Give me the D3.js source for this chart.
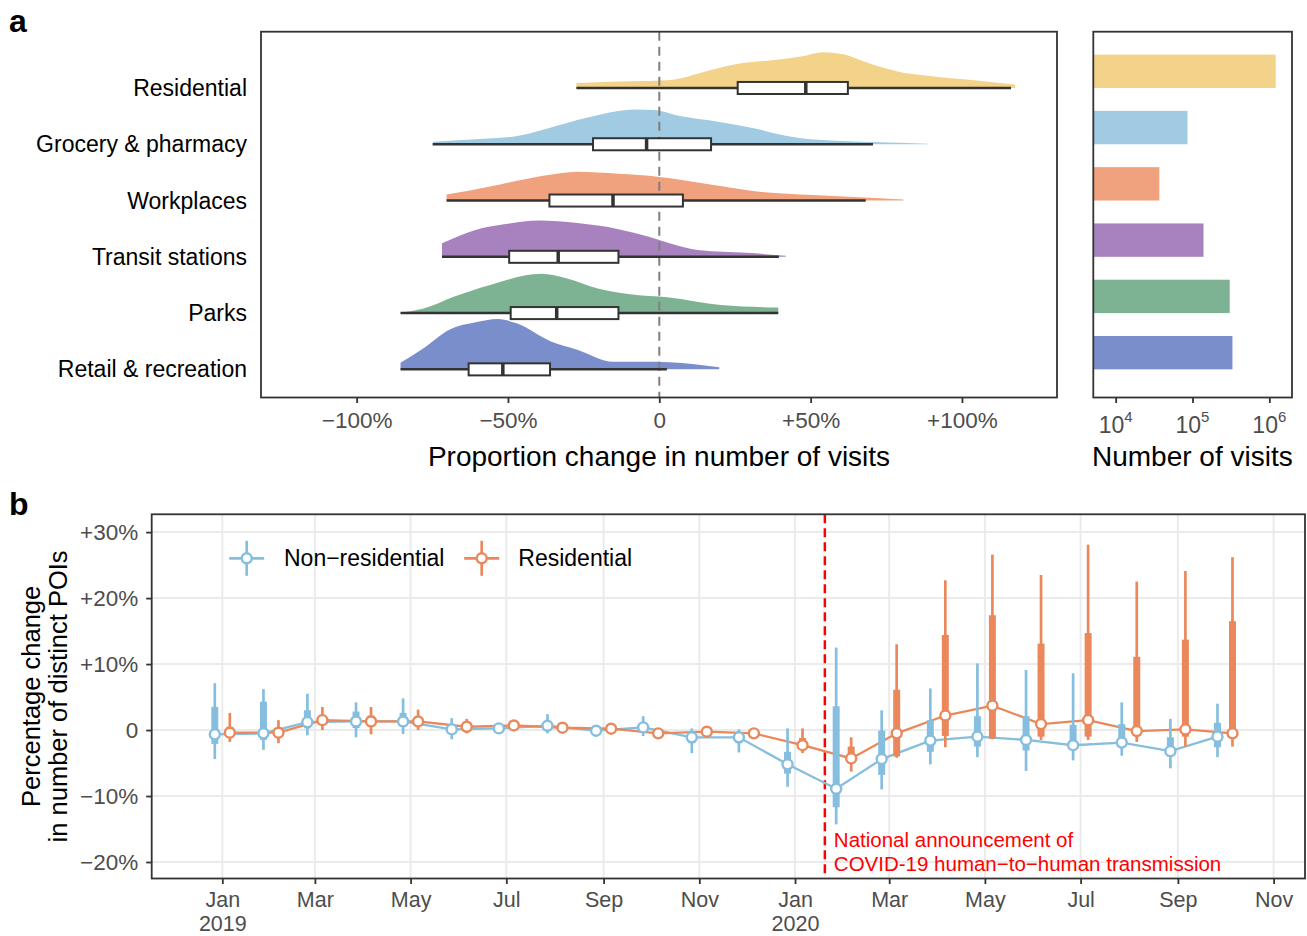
<!DOCTYPE html>
<meta charset="utf-8">
<script src="https://d3js.org/d3.v7.min.js"></script>
<style>
  body { margin: 0; background: #fff; }
  svg text { font-family: "Liberation Sans", Arial, Helvetica, sans-serif; }
</style>
<body>
<div id="chart"></div>
<script>
// ---------- panel a data ----------
const categories = ["Residential", "Grocery & pharmacy", "Workplaces", "Transit stations", "Parks", "Retail & recreation"];
const catColors = ["#F3D389", "#A0CBE2", "#F0A27E", "#A882BE", "#7DB392", "#7A8ECC"];

// density outlines: [proportion change %, relative density]
const densResidential = [[-27.4,0.10],[-13.5,0.13],[0,0.15],[5.1,0.17],[13.5,0.30],[25.3,0.47],[40.5,0.57],[47.3,0.63],[54.1,0.71],[60.8,0.67],[69.3,0.49],[79.4,0.32],[87.9,0.25],[104.8,0.15],[117.5,0.07]];
const densGrocery = [[-74.7,0.05],[-60.9,0.10],[-47.3,0.16],[-37.2,0.31],[-23.7,0.53],[-13.5,0.66],[-8.5,0.69],[-1.7,0.68],[6.8,0.56],[16.9,0.47],[28.7,0.35],[45.6,0.13],[62.5,0.06],[79.4,0.03],[88.7,0.01]];
const densWorkplaces = [[-70.3,0.12],[-55.9,0.28],[-44.0,0.43],[-33.9,0.53],[-27.1,0.57],[-13.5,0.53],[0,0.47],[16.9,0.32],[33.9,0.17],[50.8,0.11],[71.1,0.05],[80.6,0.02]];
const densTransit = [[-71.8,0.27],[-61.0,0.53],[-50.8,0.65],[-39.8,0.72],[-27.1,0.67],[-13.5,0.55],[-3.4,0.40],[3.4,0.27],[13.5,0.13],[28.8,0.08],[41.8,0.02]];
const densParks = [[-85.5,0.01],[-77.9,0.09],[-67.7,0.33],[-55.9,0.56],[-39.0,0.78],[-30.5,0.69],[-20.3,0.49],[-10.2,0.38],[3.4,0.31],[20.3,0.16],[39.3,0.11]];
const densRetail = [[-85.5,0.13],[-77.9,0.42],[-69.4,0.79],[-61.0,0.93],[-53.3,1.00],[-47.4,0.92],[-35.6,0.55],[-27.1,0.39],[-15.2,0.15],[-5.1,0.15],[3.4,0.14],[19.8,0.04]];
const densities = [densResidential, densGrocery, densWorkplaces, densTransit, densParks, densRetail];

// box stats: [whisker low, Q1, median, Q3, whisker high]
const boxStats = [
  [-27.4, 25.9, 48.4, 62.3, 116.2],
  [-74.9, -21.9, -4.2, 17.1, 70.6],
  [-70.3, -36.3, -15.3, 7.8, 68.2],
  [-71.8, -49.6, -33.4, -13.5, 39.5],
  [-85.5, -49.1, -33.9, -13.5, 39.3],
  [-85.5, -63.0, -51.7, -36.1, 2.5]
];
const changeTicks = [-100, -50, 0, 50, 100];

// number of visits per category
const visits = [1210000, 86000, 37000, 139000, 305000, 331000];
const visitTicks = [1e4, 1e5, 1e6];

// ---------- panel b data ----------
const months = ["2019-01-01","2019-02-01","2019-03-01","2019-04-01","2019-05-01","2019-06-01","2019-07-01","2019-08-01","2019-09-01","2019-10-01","2019-11-01","2019-12-01",
                "2020-01-01","2020-02-01","2020-03-01","2020-04-01","2020-05-01","2020-06-01","2020-07-01","2020-08-01","2020-09-01","2020-10-01"];

const nonresMean    = [-0.65,-0.5,1.2,1.3,1.3,0.1,0.25,0.65,-0.1,0.4,-1.1,-1.1,-5.2,-8.9,-4.4,-1.6,-1.0,-1.5,-2.3,-1.9,-3.2,-1.0];
const nonresThickLo = [-2.1,-1.5,0.25,0.3,0.5,-0.6,0,0.2,-0.4,-0.2,-2.0,-2.0,-6.6,-11.7,-6.8,-3.3,-2.5,-3.1,-2.9,-2.5,-4.0,-2.6];
const nonresThickHi = [3.5,4.3,3.0,2.8,2.6,0.8,0.5,1.2,0.2,1.0,-0.5,-0.5,-3.3,3.6,-0.1,1.5,2.1,2.1,0.8,0.9,-1.1,1.1];
const nonresThinLo  = [-4.4,-3.0,-0.8,-1.1,-0.6,-1.4,-0.4,-0.5,-1.0,-0.9,-3.5,-3.4,-8.6,-14.3,-9.0,-5.2,-4.1,-6.2,-4.6,-3.9,-5.8,-4.1];
const nonresThinHi  = [7.1,6.2,5.5,4.2,4.8,1.8,0.9,2.4,0.3,2.1,0.25,0.1,0.25,12.5,3.0,6.3,10.1,9.1,8.6,4.2,1.7,4.0];

const resMean    = [-0.4,-0.4,1.5,1.3,1.3,0.5,0.7,0.35,0.2,-0.5,-0.25,-0.5,-2.3,-4.3,-0.5,2.2,3.7,0.9,1.5,-0.15,0.1,-0.5];
const resThickLo = [-1.0,-1.0,0.8,0.5,0.7,0.1,0.4,0.1,0,-0.7,-0.5,-0.7,-3.0,-5.0,-4.0,-0.9,-1.3,-1.0,-1.0,-0.25,-1.0,-1.0];
const resThickHi = [0.5,0.3,2.3,2.2,2.0,1.0,1.0,0.6,0.4,-0.3,0,-0.3,-1.2,-2.5,6.1,14.4,17.4,13.1,14.7,11.1,13.7,16.5];
const resThinLo  = [-1.8,-2.0,0,-0.65,0,-0.5,0.2,-0.1,-0.2,-1.0,-0.8,-0.9,-3.5,-6.3,-4.2,-2.6,-1.4,-1.5,-1.5,-1.8,-2.5,-2.5];
const resThinHi  = [2.6,1.5,3.5,3.5,3.1,1.7,1.3,0.9,0.6,0,0.3,-0.1,0.25,-1.1,13.0,22.7,26.6,23.5,28.1,22.5,24.1,26.2];

const seriesNames = ["Non\u2212residential", "Residential"];
const seriesColors = ["#85BEDE", "#EA885B"];
const pctTicks = [-20, -10, 0, 10, 20, 30];
const announceDate = "2020-01-20";
const announceLines = ["National announcement of", "COVID-19 human\u2212to\u2212human transmission"];

// ---------- drawing ----------
const GRAY = "#4D4D4D", DARK = "#333333";
const svg = d3.select("#chart").append("svg").attr("width", 1307).attr("height", 936);
const pctLabel = d => d === 0 ? "0" : (d > 0 ? "+" : "\u2212") + Math.abs(d) + "%";

function styleAxis(g, size) {
  g.select(".domain").remove();
  g.selectAll(".tick line").attr("stroke", DARK).attr("stroke-width", 1.8);
  g.selectAll(".tick text").attr("fill", GRAY).attr("font-size", size)
    .attr("font-family", '"Liberation Sans", Arial, Helvetica, sans-serif');
}

svg.append("text").attr("x", 9).attr("y", 32).attr("font-size", 32).attr("font-weight", "bold").text("a");
svg.append("text").attr("x", 9).attr("y", 515).attr("font-size", 32).attr("font-weight", "bold").text("b");

// panel a: densities + boxes
const pa = { left: 261, right: 1057, top: 31.7, bottom: 397.5 };
const xA = d3.scaleLinear().domain([-131.6, 131.4]).range([pa.left, pa.right]);
const yA = d3.scaleLinear().domain([-1, 5.5]).range([pa.top, pa.bottom]);
const hA = d3.scaleLinear().domain([0, 1]).range([0, 50.3]);

const gA = svg.append("g");
densities.forEach((dens, i) => {
  const base = yA(i);
  const area = d3.area()
    .x(d => xA(d[0]))
    .y0(base)
    .y1(d => base - hA(d[1]))
    .curve(d3.curveMonotoneX);
  gA.append("path").datum(dens).attr("d", area).attr("fill", catColors[i]);
});

gA.append("line")
  .attr("x1", xA(0)).attr("x2", xA(0)).attr("y1", pa.top).attr("y2", pa.bottom)
  .attr("stroke", "#7F7F7F").attr("stroke-width", 2).attr("stroke-dasharray", "9,6");

boxStats.forEach((b, i) => {
  const c = yA(i);
  gA.append("line").attr("x1", xA(b[0])).attr("x2", xA(b[4])).attr("y1", c).attr("y2", c)
    .attr("stroke", DARK).attr("stroke-width", 2.5);
  gA.append("rect").attr("x", xA(b[1])).attr("width", xA(b[3]) - xA(b[1]))
    .attr("y", yA(i - 0.107)).attr("height", yA(i + 0.107) - yA(i - 0.107))
    .attr("fill", "#fff").attr("stroke", DARK).attr("stroke-width", 2);
  gA.append("line").attr("x1", xA(b[2])).attr("x2", xA(b[2]))
    .attr("y1", yA(i - 0.107)).attr("y2", yA(i + 0.107))
    .attr("stroke", DARK).attr("stroke-width", 3.5);
});

svg.append("rect").attr("x", pa.left).attr("y", pa.top)
  .attr("width", pa.right - pa.left).attr("height", pa.bottom - pa.top)
  .attr("fill", "none").attr("stroke", DARK).attr("stroke-width", 1.8);

const axA = svg.append("g").attr("transform", `translate(0,${pa.bottom})`)
  .call(d3.axisBottom(xA).tickValues(changeTicks).tickSize(5.5).tickPadding(9.5).tickFormat(pctLabel));
styleAxis(axA, 22.5);

svg.append("g").selectAll("text").data(categories).join("text")
  .attr("x", 247).attr("y", (d, i) => yA(i)).attr("dy", "0.35em")
  .attr("text-anchor", "end").attr("font-size", 23).attr("fill", "#000").text(d => d);

svg.append("text").attr("x", (pa.left + pa.right) / 2).attr("y", 466)
  .attr("text-anchor", "middle").attr("font-size", 28).attr("fill", "#000")
  .text("Proportion change in number of visits");

// panel a: number of visits bars
const pv = { left: 1093.3, right: 1292 };
const xV = d3.scaleLog().domain([5117, 1972000]).range([pv.left, pv.right]);
svg.append("g").selectAll("rect").data(visits).join("rect")
  .attr("x", pv.left).attr("width", d => xV(d) - pv.left)
  .attr("y", (d, i) => yA(i - 0.593)).attr("height", (d, i) => yA(i) - yA(i - 0.593))
  .attr("fill", (d, i) => catColors[i]);

svg.append("rect").attr("x", pv.left).attr("y", pa.top)
  .attr("width", pv.right - pv.left).attr("height", pa.bottom - pa.top)
  .attr("fill", "none").attr("stroke", DARK).attr("stroke-width", 1.8);

const axV = svg.append("g").attr("transform", `translate(0,${pa.bottom})`)
  .call(d3.axisBottom(xV).tickValues(visitTicks).tickSize(5.5).tickFormat(""));
styleAxis(axV, 22.5);
visitTicks.forEach(t => {
  const txt = svg.append("text").attr("x", xV(t)).attr("y", 433.3)
    .attr("text-anchor", "middle").attr("fill", GRAY).attr("font-size", 23);
  txt.append("tspan").text("10");
  txt.append("tspan").attr("dy", -11).attr("font-size", 15).text(Math.round(Math.log10(t)));
});
svg.append("text").attr("x", 1192.3).attr("y", 466)
  .attr("text-anchor", "middle").attr("font-size", 28).attr("fill", "#000").text("Number of visits");

// panel b
const pb = { left: 151.7, right: 1305, top: 514.3, bottom: 878.5 };
const parse = d3.timeParse("%Y-%m-%d");
const dates = months.map(parse);
const xB = d3.scaleTime().domain([parse("2018-11-17"), parse("2020-11-21")]).range([pb.left, pb.right]);
const yB = d3.scaleLinear().domain([-22.5, 32.7]).range([pb.bottom, pb.top]);
const monthTicks = d3.timeMonth.every(2).range(parse("2019-01-01"), parse("2020-12-01"));

const gB = svg.append("g");
gB.selectAll("line.gx").data(monthTicks).join("line").attr("class", "gx")
  .attr("x1", d => xB(d)).attr("x2", d => xB(d)).attr("y1", pb.top).attr("y2", pb.bottom)
  .attr("stroke", "#EBEBEB").attr("stroke-width", 2);
gB.selectAll("line.gy").data(pctTicks).join("line").attr("class", "gy")
  .attr("x1", pb.left).attr("x2", pb.right).attr("y1", d => yB(d)).attr("y2", d => yB(d))
  .attr("stroke", "#EBEBEB").attr("stroke-width", 2);

const xa = xB(parse(announceDate));
gB.append("line").attr("x1", xa).attr("x2", xa).attr("y1", pb.top).attr("y2", pb.bottom)
  .attr("stroke", "#FF0000").attr("stroke-width", 2.5).attr("stroke-dasharray", "9,5");
announceLines.forEach((s, k) => {
  gB.append("text").attr("x", xa + 9).attr("y", 846.7 + k * 24)
    .attr("font-size", 20.5).attr("fill", "#FF0000").text(s);
});

const series = [
  { mean: nonresMean, tlo: nonresThickLo, thi: nonresThickHi, lo: nonresThinLo, hi: nonresThinHi, dx: -7.5 },
  { mean: resMean, tlo: resThickLo, thi: resThickHi, lo: resThinLo, hi: resThinHi, dx: 7.5 }
];

series.forEach((s, k) => {
  const line = d3.line().x((d, i) => xB(dates[i]) + s.dx).y(d => yB(d));
  gB.append("path").datum(s.mean).attr("d", line).attr("fill", "none")
    .attr("stroke", seriesColors[k]).attr("stroke-width", 2.3);
});

series.forEach((s, k) => {
  const g = gB.append("g");
  const cx = i => xB(dates[i]) + s.dx;
  g.selectAll("line.thin").data(s.mean).join("line").attr("class", "thin")
    .attr("x1", (d, i) => cx(i)).attr("x2", (d, i) => cx(i))
    .attr("y1", (d, i) => yB(s.lo[i])).attr("y2", (d, i) => yB(s.hi[i]))
    .attr("stroke", seriesColors[k]).attr("stroke-width", 2.7);
  g.selectAll("line.thick").data(s.mean).join("line").attr("class", "thick")
    .attr("x1", (d, i) => cx(i)).attr("x2", (d, i) => cx(i))
    .attr("y1", (d, i) => yB(s.tlo[i])).attr("y2", (d, i) => yB(s.thi[i]))
    .attr("stroke", seriesColors[k]).attr("stroke-width", 7);
  g.selectAll("circle").data(s.mean).join("circle")
    .attr("cx", (d, i) => cx(i)).attr("cy", d => yB(d)).attr("r", 5)
    .attr("fill", "#fff").attr("stroke", seriesColors[k]).attr("stroke-width", 2.4);
});

// legend
const legendX = [246.7, 481.7], legendText = [284, 518.3], legendY = 558.3;
seriesNames.forEach((name, k) => {
  const g = svg.append("g").attr("transform", `translate(${legendX[k]},${legendY})`);
  g.append("line").attr("x1", -17.5).attr("x2", 17.5).attr("stroke", seriesColors[k]).attr("stroke-width", 2.7);
  g.append("line").attr("y1", -17.5).attr("y2", 17.5).attr("stroke", seriesColors[k]).attr("stroke-width", 2.7);
  g.append("circle").attr("r", 5).attr("fill", "#fff").attr("stroke", seriesColors[k]).attr("stroke-width", 2.4);
  svg.append("text").attr("x", legendText[k]).attr("y", legendY).attr("dy", "0.35em")
    .attr("font-size", 23).attr("fill", "#000").text(name);
});

svg.append("rect").attr("x", pb.left).attr("y", pb.top)
  .attr("width", pb.right - pb.left).attr("height", pb.bottom - pb.top)
  .attr("fill", "none").attr("stroke", DARK).attr("stroke-width", 1.8);

const axBy = svg.append("g").attr("transform", `translate(${pb.left},0)`)
  .call(d3.axisLeft(yB).tickValues(pctTicks).tickSize(5.5).tickPadding(8).tickFormat(pctLabel));
styleAxis(axBy, 22.5);

const fmtMonth = d3.timeFormat("%b");
const axBx = svg.append("g").attr("transform", `translate(0,${pb.bottom})`)
  .call(d3.axisBottom(xB).tickValues(monthTicks).tickSize(5.5).tickPadding(7.5).tickFormat(fmtMonth));
styleAxis(axBx, 21.5);
axBx.selectAll(".tick text").each(function (d) {
  if (d.getMonth() === 0) {
    d3.select(this).append("tspan").attr("x", 0).attr("dy", 24.5).text(d.getFullYear());
  }
});

svg.append("g").attr("transform", "translate(40,696.4) rotate(-90)")
  .selectAll("text").data(["Percentage change", "in number of distinct POIs"]).join("text")
  .attr("x", 0).attr("y", (d, i) => i * 26.7)
  .attr("text-anchor", "middle").attr("font-size", 25.5).attr("fill", "#000").text(d => d);
</script>
</body>
